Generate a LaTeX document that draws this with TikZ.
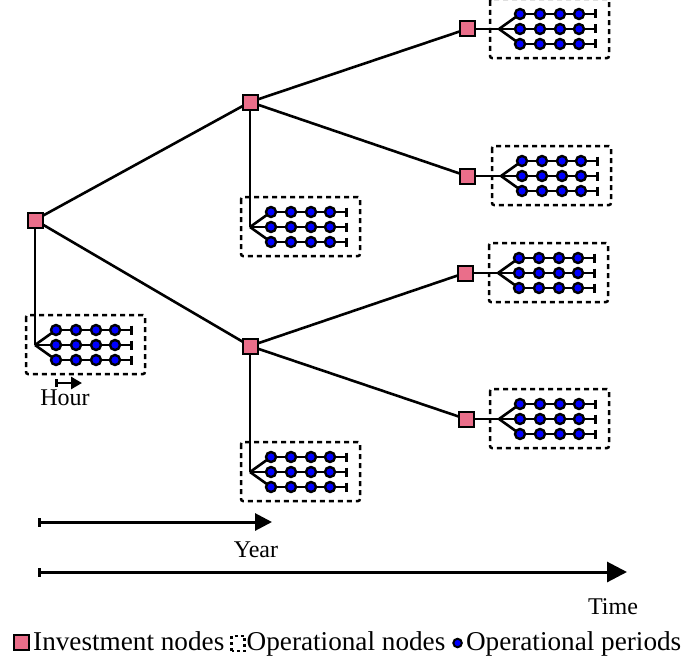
\documentclass[tikz,border=0pt]{standalone}
\usepackage{fontspec}
\setmainfont{Liberation Serif}
\usetikzlibrary{arrows.meta}
\definecolor{invpink}{RGB}{234,110,138}
\tikzset{
  inv/.style={draw=black, line width=2pt, fill=invpink, minimum size=15pt, inner sep=0pt},
  per/.style={circle, draw=black, line width=2.4pt, fill=blue, minimum size=10pt, inner sep=0pt},
  edge/.style={line width=2.6pt},
  opbox/.style={draw, dash pattern=on 5pt off 4pt, line width=2.5pt, rounded corners=2pt},
  lbl/.style={inner sep=0pt, font=\fontsize{24}{28}\selectfont},
  leg/.style={inner sep=0pt, anchor=base west, font=\fontsize{27.2}{31}\selectfont},
}
\newcommand{\opnode}[3]{%
  \begin{scope}[shift={(#2,#3)}]
    \coordinate (#1f) at (0,0);
    \draw[opbox] (-9,-30) rectangle (110,29);
    \foreach \r/\dy in {1/-15,2/0,3/15}{
      \foreach \c/\dx in {1/21,2/41,3/61,4/80}{
        \coordinate (#1-\r-\c) at (\dx,\dy);
      }
      \coordinate (#1-\r-e) at (98,\dy);
      \draw[edge] (#1f) -- (#1-\r-1);
      \draw[edge,-{Bar[width=9pt]}] (#1-\r-1) -- (#1-\r-e);
      \foreach \c in {1,2,3,4}{
        \node[per] (#1-\r-\c-dot) at (#1-\r-\c) {};
      }
    }
  \end{scope}}
\begin{document}
\begin{tikzpicture}[x=1pt,y=-1pt]
\useasboundingbox (0,0) rectangle (687,661);
% investment nodes coordinates
\coordinate (Rc) at (35,220);
\coordinate (Ac) at (250,102);
\coordinate (Bc) at (250,346);
\coordinate (A1c) at (467,29);
\coordinate (A2c) at (467,176);
\coordinate (B1c) at (465,273);
\coordinate (B2c) at (466,419);
% operational nodes
\opnode{Ro}{35}{345}
\opnode{Ao}{250}{227}
\opnode{Bo}{250}{472}
\opnode{A1o}{499}{29}
\opnode{A2o}{501}{176}
\opnode{B1o}{498}{273}
\opnode{B2o}{499}{419}
% edges
\draw[edge] (Rc) -- (Ac);
\draw[edge] (Rc) -- (Bc);
\draw[edge] (Ac) -- (A1c);
\draw[edge] (Ac) -- (A2c);
\draw[edge] (Bc) -- (B1c);
\draw[edge] (Bc) -- (B2c);
\draw[edge] (Rc) -- (Rof);
\draw[edge] (Ac) -- (Aof);
\draw[edge] (Bc) -- (Bof);
\draw[edge] (A1c) -- (A1of);
\draw[edge] (A2c) -- (A2of);
\draw[edge] (B1c) -- (B1of);
\draw[edge] (B2c) -- (B2of);
% squares
\node[inv] (R) at (Rc) {};
\node[inv] (A) at (Ac) {};
\node[inv] (B) at (Bc) {};
\node[inv] (A1) at (A1c) {};
\node[inv] (A2) at (A2c) {};
\node[inv] (B1) at (B1c) {};
\node[inv] (B2) at (B2c) {};
% hour
\coordinate (h0) at (55,383);
\coordinate (h1) at (82,383);
\draw[line width=2.6pt,{Bar[width=8pt]}-{Triangle[length=11pt,width=12pt]}] (h0) -- (h1);
\node[lbl] (hour) at (65,398) {Hour};
% year
\coordinate (y0) at (38,522);
\coordinate (y1) at (272,522);
\draw[line width=3pt,{Bar[width=9pt]}-{Triangle[length=17pt,width=17pt]}] (y0) -- (y1);
\node[lbl] (year) at (256,550) {Year};
% time
\coordinate (t0) at (38,572);
\coordinate (t1) at (627,572);
\draw[line width=3pt,{Bar[width=9pt]}-{Triangle[length=20pt,width=20pt]}] (t0) -- (t1);
\node[lbl] (time) at (613,607) {Time};
% legend
\coordinate (lb) at (33,650);
\node[inv, minimum size=15pt] (l1) at (21.5,642) {};
\node[leg] (lt1) at (lb) {Investment nodes};
\coordinate (ic0) at ([xshift=7pt,yshift=-1pt]lt1.base east);
\coordinate (ic1) at ([xshift=20pt,yshift=14pt]lt1.base east);
\draw[line width=2.2pt, dash pattern=on 3pt off 3pt] (ic0) rectangle (ic1);
\node[leg] (lt2) at ([xshift=22pt]lt1.base east) {Operational nodes};
\node[per, minimum size=8.5pt, line width=2pt] (l3) at ([xshift=12pt,yshift=7pt]lt2.base east) {};
\node[leg] (lt3) at ([xshift=3pt]l3.east |- lt2.base) {Operational periods};
\end{tikzpicture}
\end{document}
